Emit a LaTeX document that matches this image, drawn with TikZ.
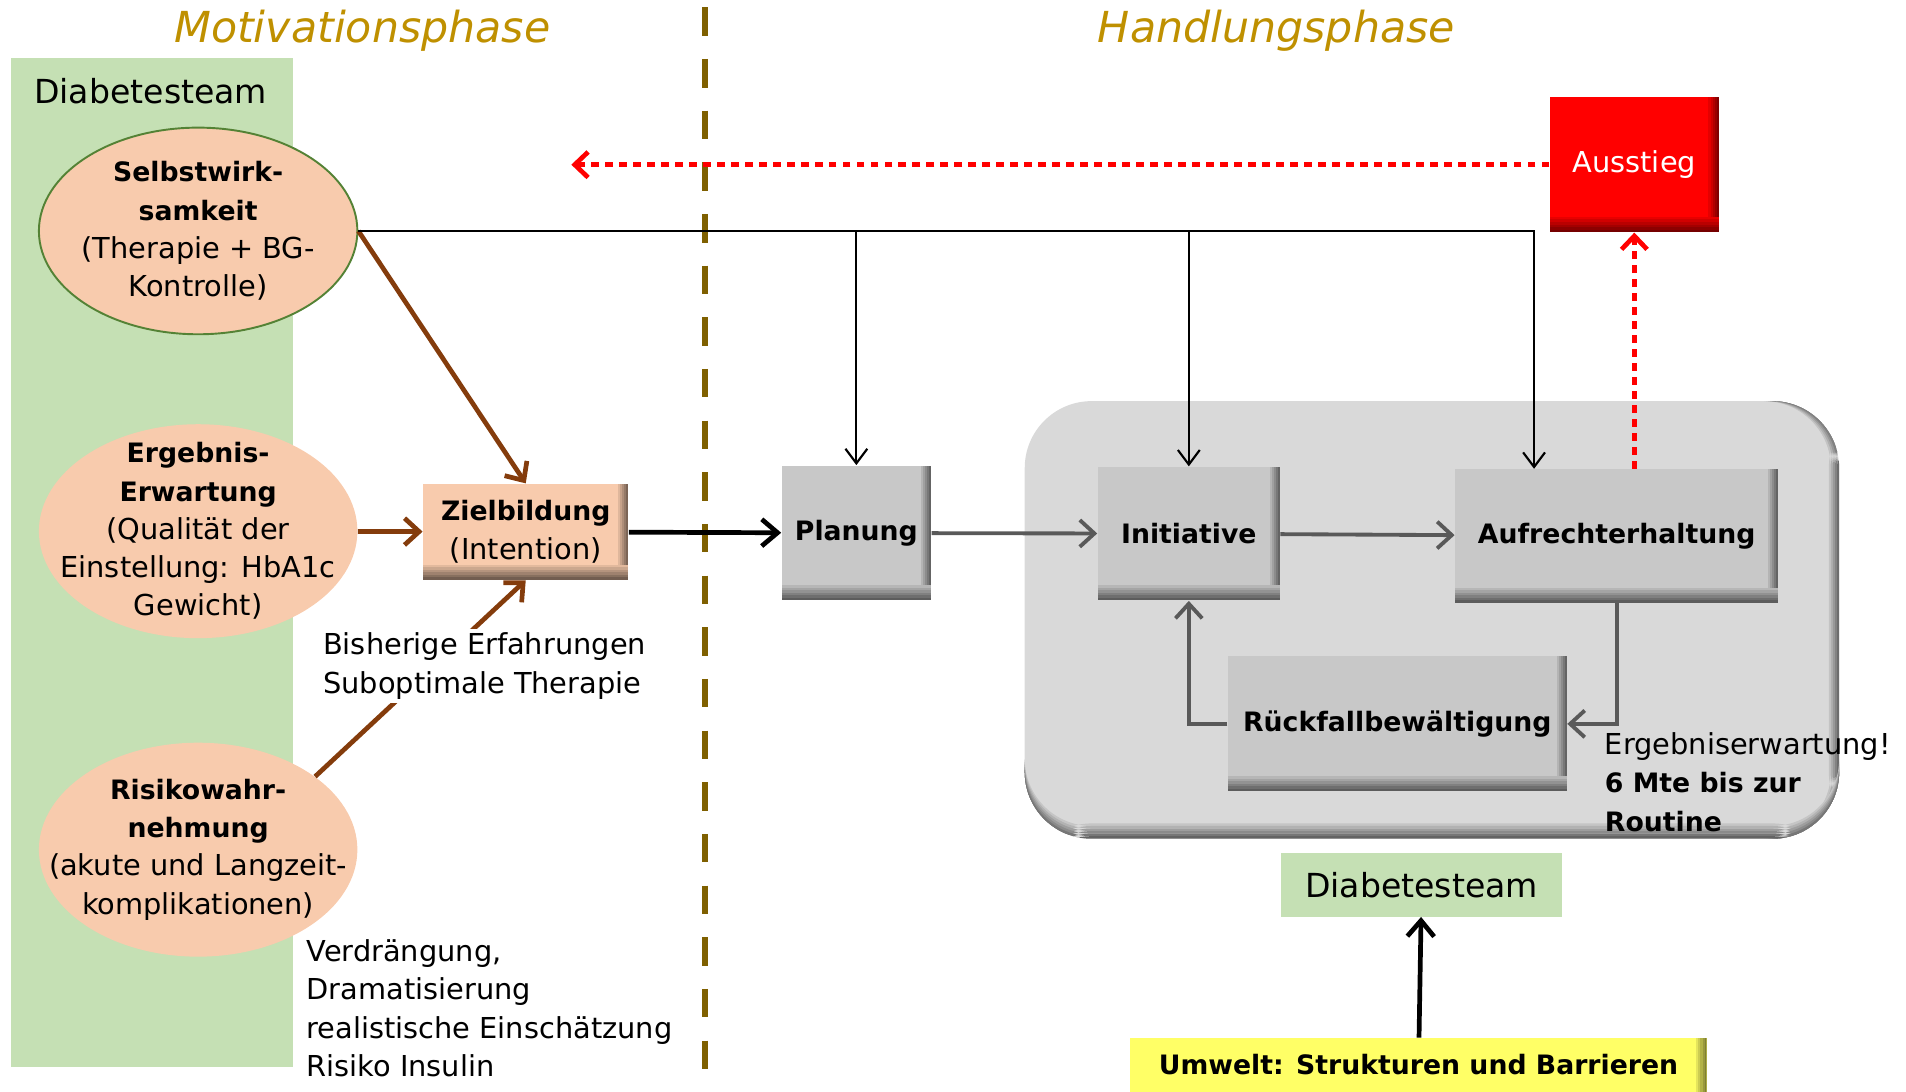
\documentclass[tikz,border=0pt]{standalone}
\usepackage{fontspec}
\setmainfont{DejaVu Sans}
\usepackage{tikz}
\usetikzlibrary{arrows.meta,shapes.geometric}

\definecolor{titlegold}{RGB}{191,144,0}
\definecolor{phaseline}{RGB}{127,96,0}
\definecolor{teamgreen}{RGB}{197,224,180}
\definecolor{peach}{RGB}{248,203,173}
\definecolor{rimgreen}{RGB}{84,130,53}
\definecolor{arrowbrown}{RGB}{132,60,12}
\definecolor{stepgrey}{RGB}{200,200,200}
\definecolor{panelgrey}{RGB}{217,217,217}
\definecolor{flowgrey}{RGB}{89,89,89}
\definecolor{exitred}{RGB}{255,0,0}
\definecolor{envyellow}{RGB}{255,255,102}

\newcommand{\bodyfont}{\normalfont\fontsize{13.5}{17.9}\selectfont}
\newcommand{\boldfont}{\fontsize{12.5}{17.9}\selectfont\bfseries}
\newcommand{\teamfont}{\fontsize{15.5}{17.9}\selectfont}
\newcommand{\hd}[1]{{\boldfont #1}}

\newcommand{\shadeside}[1]{%
  \foreach \k in {1,...,5}{%
    \pgfmathtruncatemacro{\mix}{100-10*\k}%
    \fill[#1!\mix!black] ([xshift={(\k-6)*0.34mm}]path picture bounding box.north east)
      rectangle ([xshift={(\k-5)*0.34mm}]path picture bounding box.south east);
  }}
\newcommand{\shadefoot}[1]{%
  \foreach \k in {1,...,6}{%
    \pgfmathtruncatemacro{\mix}{100-9*\k}%
    \fill[#1!\mix!black] ([yshift={(7-\k)*0.42mm}]path picture bounding box.south west)
      rectangle ([yshift={(6-\k)*0.42mm}]path picture bounding box.south east);
  }}

\tikzset{
  bevel/.style={path picture={\shadeside{#1}\shadefoot{#1}}},
  sidebevel/.style={path picture={\shadeside{#1}}},
  dims/.style 2 args={minimum width=#1*0.2mm, minimum height=#2*0.2mm},
  stepbox/.style={fill=#1, bevel=#1, inner sep=0pt, font=\boldfont},
  stepbox/.default=stepgrey,
  motive/.style={ellipse, fill=peach, inner sep=-10mm, dims={262}{176}, align=center, font=\bodyfont},
  phase/.style={font=\fontsize{20}{24}\selectfont\itshape, text=titlegold},
  brownarrow/.style={draw=arrowbrown, line width=2.2pt, -{Straight Barb[length=2.4mm,width=4.4mm]}},
  blackarrow/.style={draw=black, line width=2.2pt, -{Straight Barb[length=2.6mm,width=4.4mm]}},
  flow/.style={draw=flowgrey, line width=1.8pt, -{Straight Barb[length=2.4mm,width=4.4mm]}},
  feed/.style={draw=black, line width=1pt, -{Straight Barb[length=2.4mm,width=3.6mm]}},
  exit/.style={draw=exitred, line width=2.2pt, dash pattern=on 1.3mm off 1mm, -{Straight Barb[length=2.2mm,width=4.2mm]}}
}

\begin{document}
\begin{tikzpicture}[x=0.2mm, y=-0.2mm]
  \useasboundingbox (0,0) rectangle (1568,898);

  \node[phase] (motiv) at (298,25) {Motivationsphase};
  \node[phase] (handl) at (1050,25) {Handlungsphase};

  \node[fill=teamgreen, inner sep=0pt, dims={232}{830}] (panel) at (125,463) {};
  \node[font=\teamfont] (teamleft) at (124,75) {Diabetesteam};

  \node[motive, draw=rimgreen, line width=0.9pt, dims={262}{170}] (sw) at (163,190)
    {\hd{Selbstwirk-}\\\hd{samkeit}\\(Therapie + BG-\\Kontrolle)};
  \node[motive] (ee) at (163,437)
    {\hd{Ergebnis-}\\\hd{Erwartung}\\(Qualität der\\Einstellung: HbA1c\\Gewicht)};
  \node[motive] (rw) at (163,699)
    {\hd{Risikowahr-}\\\hd{nehmung}\\(akute und Langzeit-\\komplikationen)};

  \draw[phaseline, line width=1.1mm, dash pattern=on 4.7mm off 3.8mm] (580,6) -- (580,898);

  \node[fill=panelgrey, bevel=panelgrey, rounded corners=11mm, inner sep=0pt, dims={670}{360}] (stage) at (1178,510) {};

  \node[stepbox=peach, dims={169}{79}, align=center] (ziel) at (432.5,437.5)
    {Zielbildung\\\bodyfont(Intention)};
  \node[stepbox, dims={123}{111}] (plan) at (704.5,438.5) {Planung};
  \node[stepbox, dims={150}{110}] (init) at (978,439) {Initiative};
  \node[stepbox, dims={266}{110}] (aufr) at (1330,441) {Aufrechterhaltung};
  \node[stepbox, dims={279}{111}] (rueck) at (1149.5,595.5) {Rückfallbewältigung};
  \node[stepbox=exitred, dims={139}{111}, text=white, font=\bodyfont] (exit) at (1344.5,135.5) {Ausstieg};
  \node[fill=teamgreen, inner sep=0pt, dims={231}{52}, font=\teamfont] (teamright) at (1169.5,728) {Diabetesteam};
  \node[fill=envyellow, sidebevel=envyellow, inner sep=0pt, dims={474}{44}, font=\boldfont] (umwelt) at (1167,876)
    {Umwelt: Strukturen und Barrieren};

  \draw[brownarrow] (sw.east) to (ziel.north);
  \draw[brownarrow] (ee) to (ziel);
  \draw[brownarrow] (rw.32) to (ziel.south);
  \node[anchor=west, align=left, fill=white, inner sep=2pt, font=\bodyfont] (erfahr) at (262,548)
    {Bisherige Erfahrungen\\Suboptimale Therapie};
  \node[anchor=west, align=left, font=\bodyfont] (abwehr) at (246,829.5)
    {Verdrängung,\\Dramatisierung\\realistische Einschätzung\\Risiko Insulin};
  \node[anchor=west, align=left, font=\bodyfont, inner sep=0pt] (routine) at (1320,643.5)
    {Ergebniserwartung!\\\hd{6 Mte bis zur}\\\hd{Routine}};

  \coordinate (feedend) at (1262,190);
  \draw[feed] (sw.east) -- (feedend) -- (feedend |- aufr.north);
  \draw[feed] (plan.north |- sw.east) -- (plan.north);
  \draw[feed] (init.north |- sw.east) -- (init.north);

  \draw[blackarrow] (ziel) to (plan);
  \draw[flow] (plan) to (init);
  \draw[flow] (init) to (aufr);
  \draw[flow] (aufr.south) |- (rueck.east);
  \draw[flow] (rueck.west) -| (init.south);

  \coordinate (exittarget) at (470,135.5);
  \draw[exit] (exit.west) -- (exittarget);
  \draw[exit] (aufr.north -| exit.south) -- (exit.south);

  \draw[blackarrow] (umwelt) to (teamright);
\end{tikzpicture}
\end{document}
